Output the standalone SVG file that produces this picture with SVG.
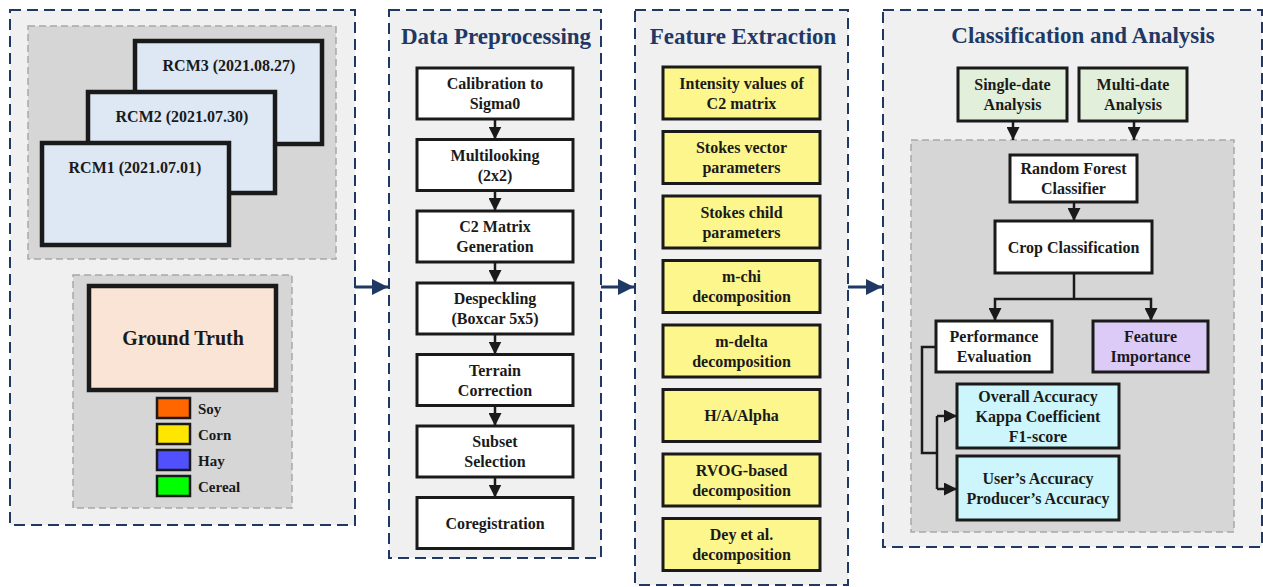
<svg xmlns="http://www.w3.org/2000/svg" width="1263" height="587" viewBox="0 0 1263 587">
<defs>
<style>
.panel{fill:#f0f0f0;stroke:#1f3864;stroke-width:2;stroke-dasharray:11 6}
.inner{fill:#d6d6d6;stroke:#a8a8a8;stroke-width:1.5;stroke-dasharray:7 4}
.rcm{fill:#dde8f4;stroke:#1a1a1a;stroke-width:4.5}
.box{fill:#ffffff;stroke:#1a1a1a;stroke-width:3}
.yel{fill:#fcf68c;stroke:#1a1a1a;stroke-width:3}
.grn{fill:#e2efda;stroke:#1a1a1a;stroke-width:3}
.pur{fill:#dccbf7;stroke:#1a1a1a;stroke-width:3}
.cyn{fill:#ccf6fb;stroke:#1a1a1a;stroke-width:3}
.sw{stroke:#1a1a1a;stroke-width:2.5}
text{font-family:"Liberation Serif","Times New Roman",serif;font-weight:bold;fill:#1a1a1a}
.t{font-size:16px;text-anchor:middle}
.title{font-size:23px;text-anchor:middle;fill:#1f3864}
.leg{font-size:15px}
.conn{fill:none;stroke:#1a1a1a;stroke-width:2.5}
.nav{fill:none;stroke:#1f3864;stroke-width:3}
</style>
<marker id="ah" viewBox="0 0 10 10" refX="10" refY="5" markerWidth="13" markerHeight="13" markerUnits="userSpaceOnUse" orient="auto"><path d="M0,0 L10,5 L0,10 z" fill="#1a1a1a"/></marker>
<marker id="nh" viewBox="0 0 10 10" refX="10" refY="5" markerWidth="16" markerHeight="16" markerUnits="userSpaceOnUse" orient="auto"><path d="M0,0 L10,5 L0,10 z" fill="#1f3864"/></marker>
</defs>

<g id="panel-input">
<rect class="panel" x="10" y="10" width="345" height="515"/>
<rect class="inner" x="28" y="26" width="308" height="233"/>
<g id="rcm3"><rect class="rcm" x="135" y="41" width="187" height="103"/><text class="t" x="229" y="71">RCM3 (2021.08.27)</text></g>
<g id="rcm2"><rect class="rcm" x="88" y="92" width="187" height="101"/><text class="t" x="182" y="122">RCM2 (2021.07.30)</text></g>
<g id="rcm1"><rect class="rcm" x="42" y="143" width="187" height="102"/><text class="t" x="135" y="173">RCM1 (2021.07.01)</text></g>
<rect class="inner" x="73" y="275" width="219" height="233"/>
<g id="ground-truth"><rect class="rcm" x="89" y="286" width="187" height="104" style="fill:#f9e4d6"/><text x="183" y="345" style="font-size:20px;text-anchor:middle">Ground Truth</text></g>
<g id="legend">
<rect class="sw" x="157" y="398" width="33" height="20" fill="#ff6600"/><text class="leg" x="198" y="414">Soy</text>
<rect class="sw" x="157" y="424" width="33" height="20" fill="#ffe600"/><text class="leg" x="198" y="440">Corn</text>
<rect class="sw" x="157" y="450" width="33" height="20" fill="#5050ff"/><text class="leg" x="198" y="466">Hay</text>
<rect class="sw" x="157" y="476" width="33" height="20" fill="#00ff00"/><text class="leg" x="198" y="492">Cereal</text>
</g>
</g>

<g id="panel-preprocessing">
<rect class="panel" x="389" y="10" width="212" height="548"/>
<text class="title" x="496" y="44">Data Preprocessing</text>
<g id="calib"><rect class="box" x="417" y="68" width="156" height="51"/><text class="t" x="495" y="89">Calibration to</text><text class="t" x="495" y="109">Sigma0</text></g>
<g id="multilook"><rect class="box" x="417" y="139.5" width="156" height="51"/><text class="t" x="495" y="160.5">Multilooking</text><text class="t" x="495" y="180.5">(2x2)</text></g>
<g id="c2gen"><rect class="box" x="417" y="211" width="156" height="51"/><text class="t" x="495" y="232">C2 Matrix</text><text class="t" x="495" y="252">Generation</text></g>
<g id="despeckle"><rect class="box" x="417" y="283" width="156" height="51"/><text class="t" x="495" y="304">Despeckling</text><text class="t" x="495" y="324">(Boxcar 5x5)</text></g>
<g id="terrain"><rect class="box" x="417" y="354.5" width="156" height="51"/><text class="t" x="495" y="375.5">Terrain</text><text class="t" x="495" y="395.5">Correction</text></g>
<g id="subset"><rect class="box" x="417" y="426" width="156" height="51"/><text class="t" x="495" y="447">Subset</text><text class="t" x="495" y="467">Selection</text></g>
<g id="coreg"><rect class="box" x="417" y="497.5" width="156" height="51"/><text class="t" x="495" y="528.5">Coregistration</text></g>
</g>

<g id="panel-features">
<rect class="panel" x="635" y="10" width="213" height="575"/>
<text class="title" x="743" y="44">Feature Extraction</text>
<g id="f1"><rect class="yel" x="663" y="67" width="157" height="52"/><text class="t" x="741.5" y="88.5">Intensity values of</text><text class="t" x="741.5" y="108.5">C2 matrix</text></g>
<g id="f2"><rect class="yel" x="663" y="131.5" width="157" height="52"/><text class="t" x="741.5" y="153">Stokes vector</text><text class="t" x="741.5" y="173">parameters</text></g>
<g id="f3"><rect class="yel" x="663" y="196" width="157" height="52"/><text class="t" x="741.5" y="217.5">Stokes child</text><text class="t" x="741.5" y="237.5">parameters</text></g>
<g id="f4"><rect class="yel" x="663" y="260.5" width="157" height="52"/><text class="t" x="741.5" y="282">m-chi</text><text class="t" x="741.5" y="302">decomposition</text></g>
<g id="f5"><rect class="yel" x="663" y="325" width="157" height="52"/><text class="t" x="741.5" y="346.5">m-delta</text><text class="t" x="741.5" y="366.5">decomposition</text></g>
<g id="f6"><rect class="yel" x="663" y="389.5" width="157" height="52"/><text class="t" x="741.5" y="421">H/A/Alpha</text></g>
<g id="f7"><rect class="yel" x="663" y="454" width="157" height="52"/><text class="t" x="741.5" y="475.5">RVOG-based</text><text class="t" x="741.5" y="495.5">decomposition</text></g>
<g id="f8"><rect class="yel" x="663" y="518.5" width="157" height="52"/><text class="t" x="741.5" y="540">Dey et al.</text><text class="t" x="741.5" y="560">decomposition</text></g>
</g>

<g id="panel-classification">
<rect class="panel" x="883" y="10" width="379" height="537"/>
<text class="title" x="1083" y="43">Classification and Analysis</text>
<g id="single"><rect class="grn" x="958" y="68" width="109" height="53"/><text class="t" x="1012.5" y="90">Single-date</text><text class="t" x="1012.5" y="110">Analysis</text></g>
<g id="multi"><rect class="grn" x="1079" y="68" width="108" height="53"/><text class="t" x="1133" y="90">Multi-date</text><text class="t" x="1133" y="110">Analysis</text></g>
<rect class="inner" x="911" y="140" width="323" height="392"/>
<g id="rf"><rect class="box" x="1010" y="155" width="127" height="47"/><text class="t" x="1073.5" y="174">Random Forest</text><text class="t" x="1073.5" y="194">Classifier</text></g>
<g id="crop"><rect class="box" x="995" y="221" width="157" height="52"/><text class="t" x="1073.5" y="252.5">Crop Classification</text></g>
<g id="perf"><rect class="box" x="936" y="321" width="116" height="51"/><text class="t" x="994" y="342">Performance</text><text class="t" x="994" y="362">Evaluation</text></g>
<g id="featimp"><rect class="pur" x="1093" y="321" width="115" height="51"/><text class="t" x="1150.5" y="342">Feature</text><text class="t" x="1150.5" y="362">Importance</text></g>
<g id="oa"><rect class="cyn" x="957" y="384" width="162" height="64"/><text class="t" x="1038" y="401.5">Overall Accuracy</text><text class="t" x="1038" y="421.5">Kappa Coefficient</text><text class="t" x="1038" y="441.5">F1-score</text></g>
<g id="ua"><rect class="cyn" x="957" y="456" width="162" height="64"/><text class="t" x="1038" y="483.5">User’s Accuracy</text><text class="t" x="1038" y="503.5">Producer’s Accuracy</text></g>
</g>

<g id="connectors">
<path class="nav" d="M355,287 H388" marker-end="url(#nh)"/>
<path class="nav" d="M601,287 H634" marker-end="url(#nh)"/>
<path class="nav" d="M848,287 H882" marker-end="url(#nh)"/>
<path class="conn" d="M495,119 V139.5" marker-end="url(#ah)"/>
<path class="conn" d="M495,190.5 V211" marker-end="url(#ah)"/>
<path class="conn" d="M495,262 V283" marker-end="url(#ah)"/>
<path class="conn" d="M495,334 V354.5" marker-end="url(#ah)"/>
<path class="conn" d="M495,405.5 V426" marker-end="url(#ah)"/>
<path class="conn" d="M495,477 V497.5" marker-end="url(#ah)"/>
<path class="conn" d="M1013,121 V140" marker-end="url(#ah)"/>
<path class="conn" d="M1134,121 V140" marker-end="url(#ah)"/>
<path class="conn" d="M1074,202 V221" marker-end="url(#ah)"/>
<path class="conn" d="M1074,273 V299"/>
<path class="conn" d="M1074,299 H995 V321" marker-end="url(#ah)"/>
<path class="conn" d="M1074,299 H1151 V321" marker-end="url(#ah)"/>
<path class="conn" d="M936,347 H922 V453 H937"/>
<path class="conn" d="M937,416 V489"/>
<path class="conn" d="M937,416 H957" marker-end="url(#ah)"/>
<path class="conn" d="M937,489 H957" marker-end="url(#ah)"/>
</g>
</svg>
